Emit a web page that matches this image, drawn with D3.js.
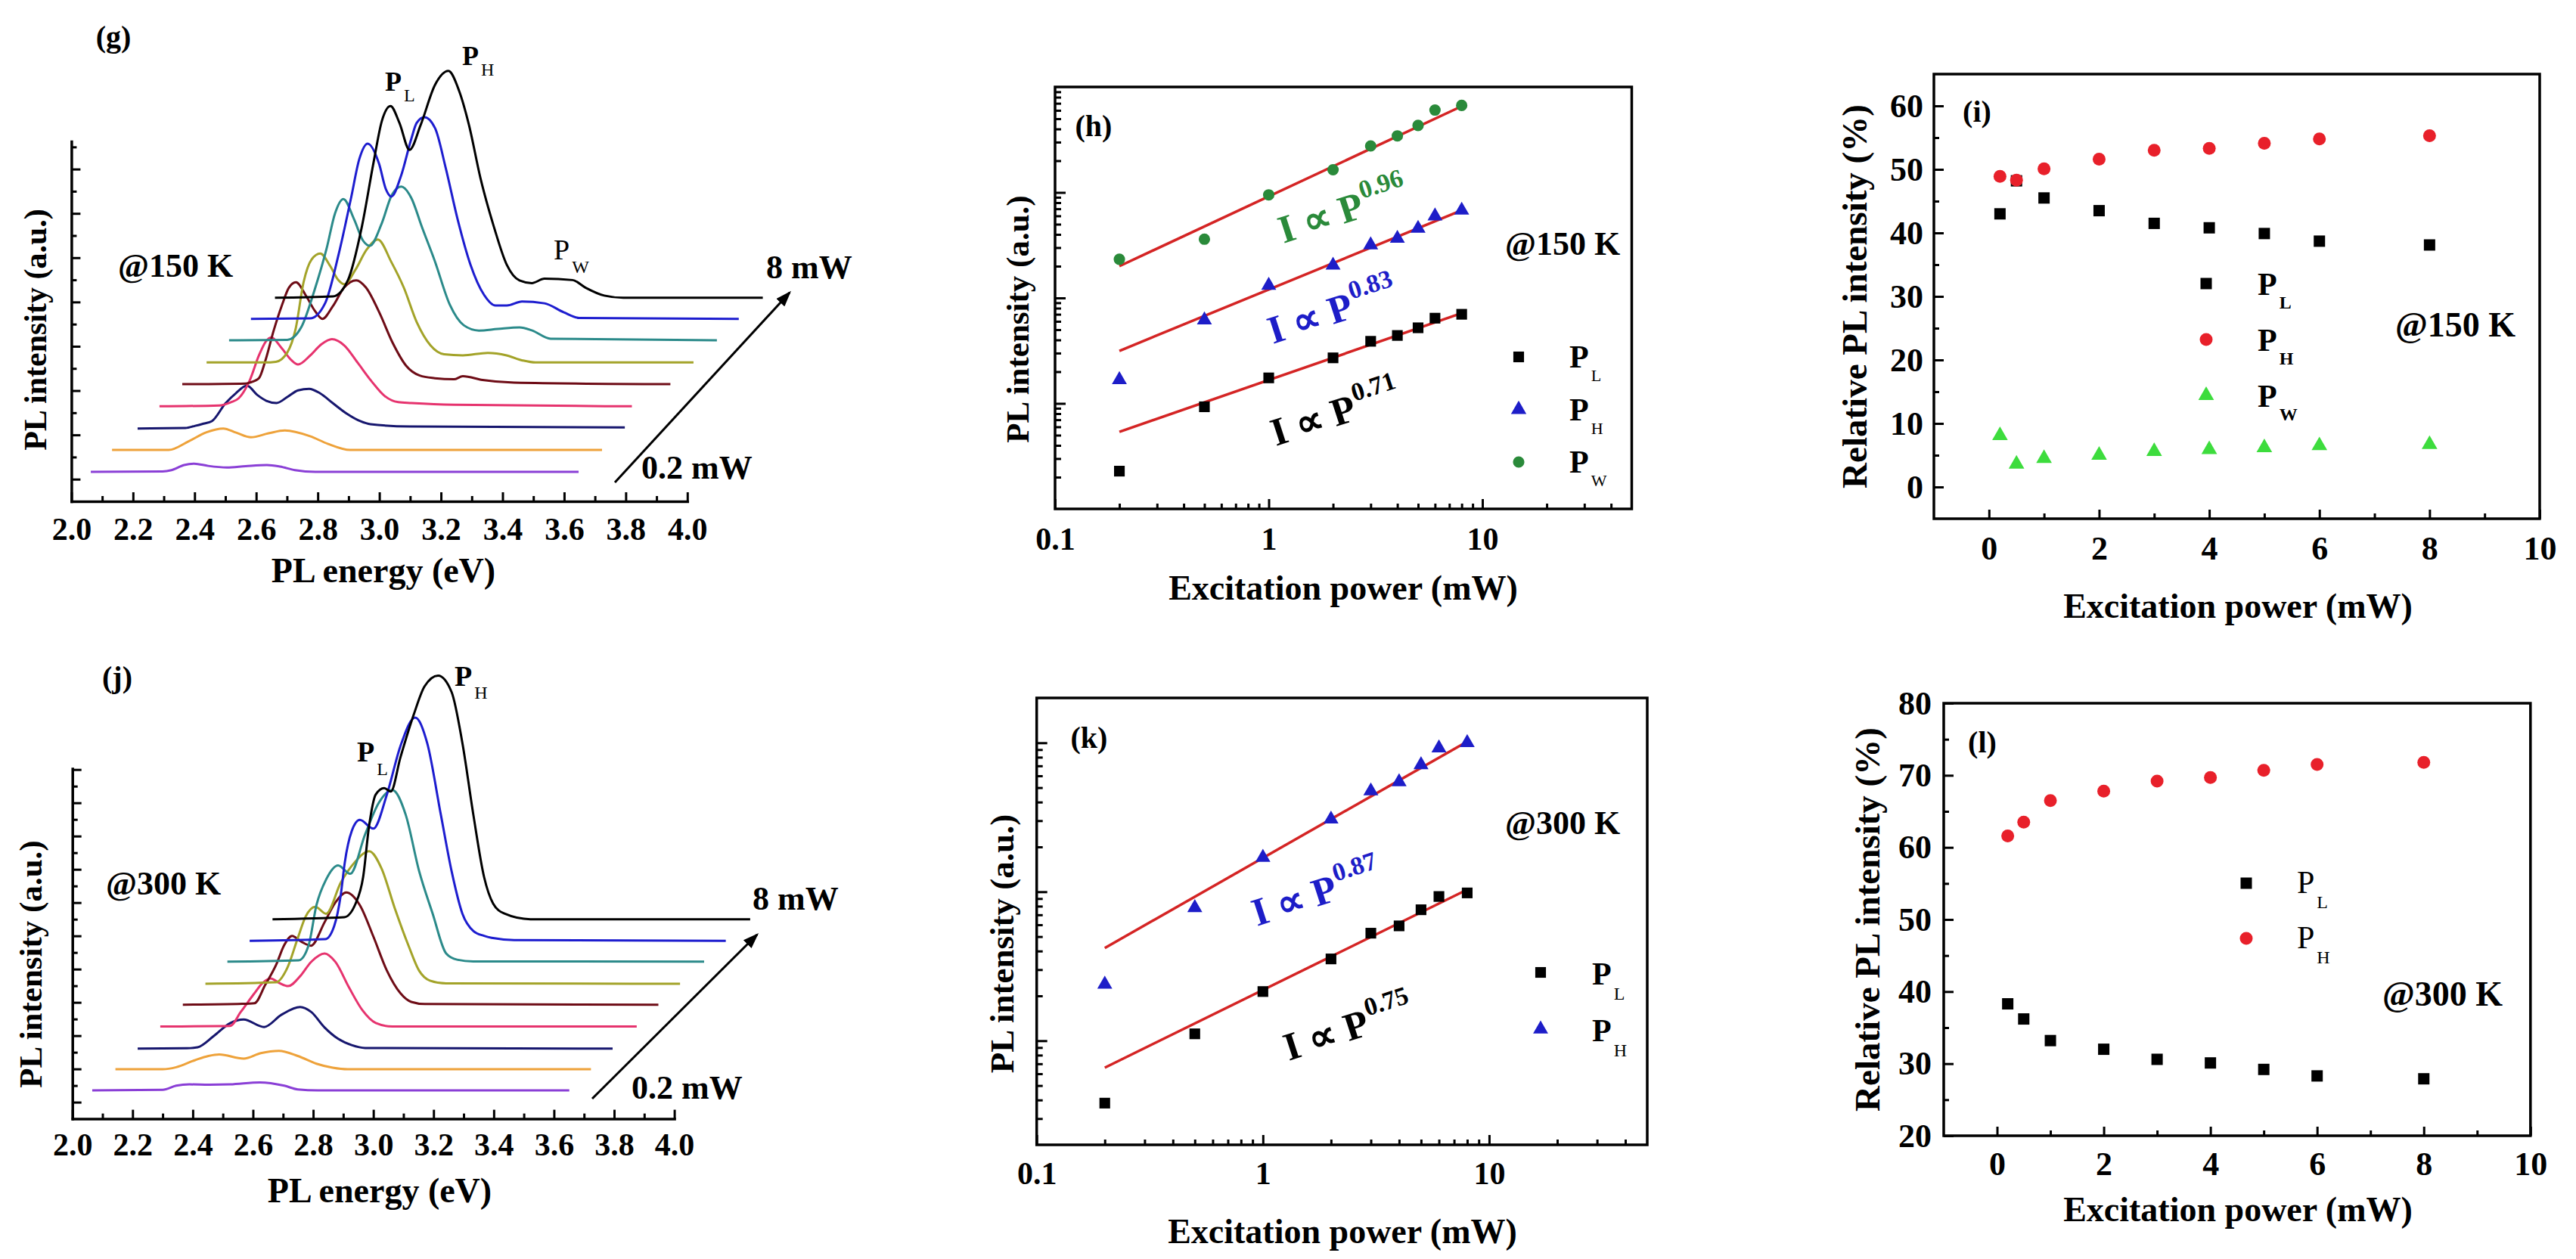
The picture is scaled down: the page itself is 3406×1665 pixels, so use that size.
<!DOCTYPE html>
<html>
<head>
<meta charset="utf-8">
<title>PL spectra and excitation power dependence</title>
<script src="https://cdn.jsdelivr.net/npm/d3@7/dist/d3.min.js"></script>
<style>
  body { margin: 0; background: #fff; }
  svg { display: block; }
</style>
</head>
<body>
<svg id="fig"></svg>
<script>
// ---------- data ----------
// excitation powers (mW), same for every panel
const powerMW = [0.2, 0.5, 1, 2, 3, 4, 5, 6, 8];

// (g) PL spectra @150 K: [energy (eV), intensity above the curve's own baseline (a.u.)]
const g02 = [[2.063,0],[2.296,0.02],[2.325,0.08],[2.366,0.31],[2.399,0.37],[2.444,0.27],[2.505,0.20],[2.566,0.26],[2.635,0.31],[2.677,0.24],[2.726,0.08],[2.792,0],[3.647,0]];
const g05 = [[2.132,0],[2.316,0],[2.382,0.40],[2.439,0.80],[2.493,0.97],[2.535,0.78],[2.583,0.57],[2.640,0.75],[2.693,0.88],[2.775,0.62],[2.832,0.28],[2.905,0],[3.723,0]];
const g1 = [[2.215,0],[2.370,0.02],[2.402,0.12],[2.429,0.22],[2.456,0.33],[2.500,1.13],[2.534,1.59],[2.570,1.93],[2.603,1.52],[2.633,1.25],[2.666,1.15],[2.701,1.42],[2.736,1.72],[2.772,1.79],[2.807,1.59],[2.850,1.13],[2.894,0.67],[2.938,0.33],[2.971,0.19],[3.099,0.09],[3.797,0.05]];
const g2 = [[2.286,0],[2.480,0.04],[2.517,0.18],[2.543,0.36],[2.579,1.17],[2.609,2.30],[2.631,2.92],[2.649,3.11],[2.682,2.64],[2.714,2.09],[2.736,1.89],[2.775,2.29],[2.812,2.80],[2.846,3.03],[2.886,2.75],[2.930,1.96],[2.973,1.16],[3.017,0.47],[3.061,0.19],[3.104,0.15],[3.241,0.07],[3.820,0]];
const g3 = [[2.360,0],[2.566,0.03],[2.579,0.07],[2.609,0.27],[2.630,1.07],[2.657,2.43],[2.684,3.58],[2.706,4.35],[2.729,4.60],[2.763,3.96],[2.792,3.28],[2.815,2.95],[2.849,3.52],[2.886,4.37],[2.925,4.69],[2.956,4.37],[3.000,3.23],[3.043,1.87],[3.087,0.83],[3.131,0.39],[3.180,0.27],[3.242,0.22],[3.271,0.36],[3.335,0.19],[3.438,0.07],[3.945,0]];
const g4 = [[2.439,0],[2.628,0],[2.664,0.03],[2.701,0.45],[2.728,1.51],[2.754,3.63],[2.780,4.65],[2.808,4.92],[2.841,4.34],[2.866,3.73],[2.886,3.53],[2.922,4.18],[2.959,5.10],[2.995,5.55],[3.039,4.53],[3.079,3.39],[3.122,1.80],[3.166,0.77],[3.210,0.37],[3.271,0.32],[3.352,0.43],[3.413,0.32],[3.465,0.09],[3.507,0],[4.020,0]];
const g5 = [[2.512,0],[2.701,0.02],[2.746,0.58],[2.790,2.29],[2.829,4.16],[2.856,5.73],[2.883,6.38],[2.918,5.46],[2.947,4.50],[2.969,4.27],[3.008,5.29],[3.040,6.55],[3.071,6.94],[3.104,6.42],[3.138,5.12],[3.180,3.58],[3.229,1.60],[3.274,0.68],[3.323,0.44],[3.384,0.51],[3.455,0.58],[3.495,0.45],[3.556,0.07],[4.096,0]];
const g6 = [[2.583,0],[2.775,0.02],[2.824,0.71],[2.868,2.93],[2.908,5.45],[2.935,7.22],[2.962,7.91],[2.999,7.00],[3.021,5.86],[3.039,5.52],[3.070,6.44],[3.104,8.14],[3.121,8.84],[3.146,9.10],[3.181,8.60],[3.215,6.84],[3.254,4.50],[3.296,2.44],[3.340,1.08],[3.377,0.60],[3.414,0.60],[3.463,0.78],[3.536,0.70],[3.598,0.30],[3.649,0.04],[4.167,0]];
const g8 = [[2.661,0],[2.849,0.06],[2.898,0.80],[2.943,3.20],[2.981,6.10],[3.008,7.98],[3.036,8.66],[3.065,7.90],[3.098,6.68],[3.134,7.80],[3.181,9.62],[3.224,10.24],[3.259,9.34],[3.291,7.80],[3.328,5.42],[3.372,3.20],[3.414,1.48],[3.455,0.78],[3.495,0.66],[3.536,0.86],[3.627,0.80],[3.669,0.46],[3.730,0.10],[3.792,0],[4.245,0]];
const spectra150 = [g02, g05, g1, g2, g3, g4, g5, g6, g8];
const baseline150 = [1.33, 2.32, 3.29, 4.29, 5.29, 6.27, 7.27, 8.24, 9.19];

// (j) PL spectra @300 K
const j02 = [[2.066,0],[2.300,0.03],[2.345,0.28],[2.389,0.36],[2.455,0.34],[2.524,0.36],[2.623,0.48],[2.704,0.28],[2.749,0.06],[2.815,0],[3.651,0]];
const j05 = [[2.143,0],[2.300,0],[2.345,0.12],[2.408,0.55],[2.452,0.80],[2.488,0.89],[2.569,0.64],[2.626,0.97],[2.686,1.11],[2.749,0.80],[2.811,0.33],[2.865,0.09],[2.915,0],[3.723,0]];
const j1 = [[2.217,0],[2.380,0.02],[2.416,0.08],[2.470,0.76],[2.524,1.53],[2.569,1.75],[2.637,1.30],[2.695,2.04],[2.757,2.50],[2.793,2.21],[2.838,1.27],[2.883,0.59],[2.928,0.21],[2.973,0.04],[3.795,0]];
const j2 = [[2.292,0],[2.488,0.02],[2.524,0.04],[2.560,0.89],[2.605,2.00],[2.631,2.60],[2.659,2.89],[2.687,2.62],[2.717,2.43],[2.757,3.03],[2.793,3.88],[2.838,4.39],[2.874,3.88],[2.919,2.35],[2.964,0.97],[3.008,0.21],[3.063,0],[3.875,0]];
const j3 = [[2.367,0],[2.564,0.05],[2.605,0.09],[2.641,1.20],[2.677,2.40],[2.704,3.59],[2.730,4.14],[2.760,3.80],[2.793,3.55],[2.838,4.96],[2.874,6.15],[2.910,6.75],[2.955,5.99],[3.000,4.10],[3.045,2.05],[3.090,0.69],[3.126,0.17],[3.171,0.04],[3.947,0]];
const j4 = [[2.442,0],[2.677,0.09],[2.714,0.95],[2.749,2.75],[2.775,4.04],[2.807,4.63],[2.843,4.21],[2.892,6.09],[2.937,7.28],[2.986,7.97],[3.027,6.94],[3.071,4.55],[3.116,2.33],[3.152,0.79],[3.188,0.19],[3.242,0.02],[4.019,0]];
const j5 = [[2.515,0],[2.752,0.08],[2.785,0.99],[2.811,3.40],[2.843,4.94],[2.883,5.79],[2.923,5.28],[2.973,7.67],[3.018,9.55],[3.063,10.32],[3.107,8.86],[3.152,5.45],[3.197,2.89],[3.242,0.49],[3.278,0.12],[3.332,0.01],[4.099,0]];
const j6 = [[2.589,0],[2.840,0.10],[2.870,0.90],[2.892,2.80],[2.905,4.70],[2.928,6.59],[2.955,7.27],[3.000,6.75],[3.045,8.80],[3.090,11.71],[3.139,13.42],[3.179,11.88],[3.224,7.61],[3.260,4.19],[3.296,1.63],[3.332,0.60],[3.368,0.30],[3.393,0.18],[3.468,0.05],[4.171,0]];
const j8 = [[2.665,0],[2.903,0.12],[2.941,0.94],[2.966,2.53],[2.986,5.63],[3.008,7.50],[3.036,7.88],[3.058,7.68],[3.090,9.73],[3.134,12.29],[3.170,14.00],[3.215,14.65],[3.260,13.66],[3.296,10.58],[3.332,6.31],[3.368,2.53],[3.398,0.94],[3.434,0.35],[3.522,0],[4.252,0]];
const spectra300 = [j02, j05, j1, j2, j3, j4, j5, j6, j8];
const baseline300 = [1.71, 2.98, 4.22, 5.55, 6.86, 8.12, 9.45, 10.70, 12.00];

// (h) peak intensities @150 K (a.u.)
const intPL150 = [22.8, 92.9, 174.6, 270.4, 388, 440.6, 521, 642.7, 699.8];
const intPH150 = [167.5, 616.6, 1315, 2037, 3177, 3664, 4560, 5970, 6776];
const intPW150 = [2328, 3606, 9484, 16406, 27606, 34356, 43152, 60395, 66834];
// red fit lines, end points [P (mW), I (a.u.)]
const fitPL150 = [[0.2, 53.8], [8, 717.8]];
const fitPH150 = [[0.2, 314.8], [8, 6776]];
const fitPW150 = [[0.2, 2000], [8, 65615]];
const exp150 = ["0.71", "0.83", "0.96"];

// (k) peak intensities @300 K (a.u.)
const intPL300 = [38.1, 111.2, 213.8, 354, 527, 590, 757, 929, 982];
const intPH300 = [239, 780, 1698, 3069, 4742, 5470, 7112, 9226, 10000];
const fitPL300 = [[0.2, 65.9], [8, 1033]];
const fitPH300 = [[0.2, 418.8], [8, 10186]];
const exp300 = ["0.75", "0.87"];

// (i) relative PL intensity @150 K (%)
const relPL150 = [43.0, 48.2, 45.5, 43.5, 41.5, 40.8, 39.9, 38.7, 38.1];
const relPH150 = [48.9, 48.3, 50.1, 51.6, 53.0, 53.3, 54.1, 54.8, 55.3];
const relPW150 = [8.1, 3.6, 4.5, 5.0, 5.6, 5.9, 6.2, 6.5, 6.7];

// (l) relative PL intensity @300 K (%)
const relPL300 = [38.3, 36.2, 33.2, 32.0, 30.6, 30.1, 29.2, 28.3, 27.9];
const relPH300 = [61.6, 63.5, 66.5, 67.8, 69.2, 69.7, 70.7, 71.5, 71.8];

// ticks
const energyTicks = [2.0, 2.2, 2.4, 2.6, 2.8, 3.0, 3.2, 3.4, 3.6, 3.8, 4.0];
const energyMinor = [2.1, 2.3, 2.5, 2.7, 2.9, 3.1, 3.3, 3.5, 3.7, 3.9];
const specMajor150 = [1, 3, 5, 7, 9, 11, 13, 15];
const specMinor150 = [2, 4, 6, 8, 10, 12, 14, 16];
const specMajor300 = [1, 3, 5, 7, 9, 11, 13, 15, 17, 19, 21];
const specMinor300 = [2, 4, 6, 8, 10, 12, 14, 16, 18, 20];
const logTicksX = [0.1, 1, 10];
const logMinorX = [0.2, 0.3, 0.4, 0.5, 0.6, 0.7, 0.8, 0.9, 2, 3, 4, 5, 6, 7, 8, 9, 20, 30, 40];
const logMajorY = [100, 1000, 10000];
const logMinorY150 = [20, 30, 40, 50, 60, 70, 80, 90, 200, 300, 400, 500, 600, 700, 800, 900,
  2000, 3000, 4000, 5000, 6000, 7000, 8000, 9000, 20000, 30000, 40000, 50000, 60000, 70000, 80000, 90000];
const logMinorY300 = [30, 40, 50, 60, 70, 80, 90, 200, 300, 400, 500, 600, 700, 800, 900,
  2000, 3000, 4000, 5000, 6000, 7000, 8000, 9000];
const powerTicks = [0, 2, 4, 6, 8, 10];
const powerMinor = [1, 3, 5, 7, 9];
const relTicks150 = [0, 10, 20, 30, 40, 50, 60];
const relMinor150 = [5, 15, 25, 35, 45, 55];
const relTicks300 = [20, 30, 40, 50, 60, 70, 80];
const relMinor300 = [25, 35, 45, 55, 65, 75];

// ---------- drawing ----------
const W = 3406, H = 1665;
const FONT = '"Liberation Serif", "Times New Roman", Times, serif';
const specColors = ["#8a3fd6", "#eea23a", "#16166e", "#e6336e", "#6e0c16", "#a3a329", "#2b8a8a", "#1d1dcf", "#000000"];
const red = "#d42424";
const blue = "#1d1dc8";
const darkGreen = "#2a8a3a";
const lime = "#3ddc3d";

const svg = d3.select("#fig")
  .attr("width", W).attr("height", H)
  .attr("font-family", FONT).attr("font-weight", "bold");
svg.append("rect").attr("width", W).attr("height", H).attr("fill", "#fff");

svg.append("defs").append("marker")
  .attr("id", "arrow").attr("viewBox", "0 0 14 10")
  .attr("refX", 12).attr("refY", 5)
  .attr("markerWidth", 7).attr("markerHeight", 5)
  .attr("orient", "auto")
  .append("path").attr("d", "M0,0L14,5L0,10Z").attr("fill", "#000");

// text with an optional subscript
function label(g, x, y, main, sub, o = {}) {
  const t = g.append("text").attr("x", x).attr("y", y)
    .attr("font-size", o.size || 44)
    .attr("font-weight", o.weight || "bold")
    .attr("fill", o.fill || "#000")
    .attr("text-anchor", o.anchor || "start");
  t.append("tspan").text(main);
  if (sub) {
    t.append("tspan")
      .attr("dx", o.subDx || 3).attr("dy", o.subDy || 14)
      .attr("font-size", o.subSize || 22)
      .attr("font-weight", o.subWeight || "normal")
      .text(sub);
  }
  return t;
}

function vTitle(g, x, y, s, size) {
  g.append("text")
    .attr("transform", `translate(${x},${y}) rotate(-90)`)
    .attr("text-anchor", "middle").attr("dy", "0.35em")
    .attr("font-size", size).text(s);
}

function styleAxis(a, size, keepDomain) {
  a.attr("font-family", FONT).attr("font-size", size).attr("font-weight", "bold");
  a.selectAll(".tick line").attr("stroke", "#000").attr("stroke-width", 3);
  a.selectAll("text").attr("fill", "#000");
  if (keepDomain) {
    a.select(".domain").attr("stroke", "#000").attr("stroke-width", 3.5).attr("stroke-linecap", "square");
  } else {
    a.select(".domain").remove();
  }
}

function frame(g, x, y) {
  g.append("rect")
    .attr("x", x.range()[0]).attr("y", y.range()[1])
    .attr("width", x.range()[1] - x.range()[0])
    .attr("height", y.range()[0] - y.range()[1])
    .attr("fill", "none").attr("stroke", "#000").attr("stroke-width", 3.5);
}

function points(g, xs, ys, x, y, type, size, color) {
  g.selectAll(null)
    .data(xs.map((p, i) => [p, ys[i]]))
    .join("path")
    .attr("transform", d => `translate(${x(d[0])},${y(d[1])})`)
    .attr("d", d3.symbol().type(type).size(size))
    .attr("fill", color);
}

function fitLine(g, fit, x, y) {
  g.append("path")
    .attr("d", d3.line().x(d => x(d[0])).y(d => y(d[1]))(fit))
    .attr("fill", "none").attr("stroke", red).attr("stroke-width", 3.5);
}

function powerLaw(g, px, py, exp, color) {
  const t = g.append("text")
    .attr("transform", `translate(${px},${py}) rotate(-18)`)
    .attr("font-size", 52).attr("fill", color);
  t.append("tspan").text("I \u221D P");
  t.append("tspan").attr("dx", 2).attr("dy", -24).attr("font-size", 34).text(exp);
}

// waterfall spectra panel, (g) and (j)
function spectraPanel(p) {
  const g = svg.append("g");
  const x = d3.scaleLinear().domain([2, 4]).range(p.xRange);
  const y = d3.scaleLinear().domain([0, p.yMax]).range(p.yRange);

  p.spectra.forEach((s, i) => {
    const line = d3.line()
      .x(d => x(d[0]))
      .y(d => y(p.baselines[i] + d[1]))
      .curve(d3.curveMonotoneX);
    g.append("path").attr("d", line(s))
      .attr("fill", "none").attr("stroke", specColors[i])
      .attr("stroke-width", 3).attr("stroke-linejoin", "round");
  });

  const ax = g.append("g").attr("transform", `translate(0,${p.yRange[0]})`)
    .call(d3.axisBottom(x).tickValues(energyTicks).tickSize(-12).tickSizeOuter(0)
      .tickPadding(p.xPad).tickFormat(d3.format(".1f")));
  styleAxis(ax, 42, true);
  const axm = g.append("g").attr("transform", `translate(0,${p.yRange[0]})`)
    .call(d3.axisBottom(x).tickValues(energyMinor).tickSize(-7).tickFormat(""));
  styleAxis(axm, 42, false);

  const ay = g.append("g").attr("transform", `translate(${p.xRange[0]},0)`)
    .call(d3.axisLeft(y).tickValues(p.yMajor).tickSize(-12).tickSizeOuter(0).tickFormat(""));
  styleAxis(ay, 42, true);
  const aym = g.append("g").attr("transform", `translate(${p.xRange[0]},0)`)
    .call(d3.axisLeft(y).tickValues(p.yMinor).tickSize(-7).tickFormat(""));
  styleAxis(aym, 42, false);

  return { g, x, y };
}

// log-log panel, (h) and (k)
function logPanel(p) {
  const g = svg.append("g");
  const x = d3.scaleLog().domain([0.1, 50]).range(p.xRange);
  const y = d3.scaleLog().domain(p.yDomain).range(p.yRange);

  const ax = g.append("g").attr("transform", `translate(0,${p.yRange[0]})`)
    .call(d3.axisBottom(x).tickValues(logTicksX).tickSize(-13).tickPadding(p.xPad).tickFormat(d => String(d)));
  styleAxis(ax, 42, false);
  const axm = g.append("g").attr("transform", `translate(0,${p.yRange[0]})`)
    .call(d3.axisBottom(x).tickValues(logMinorX).tickSize(-7).tickFormat(""));
  styleAxis(axm, 42, false);
  const ay = g.append("g").attr("transform", `translate(${p.xRange[0]},0)`)
    .call(d3.axisLeft(y).tickValues(logMajorY).tickSize(-14).tickFormat(""));
  styleAxis(ay, 42, false);
  const aym = g.append("g").attr("transform", `translate(${p.xRange[0]},0)`)
    .call(d3.axisLeft(y).tickValues(p.yMinor).tickSize(-8).tickFormat(""));
  styleAxis(aym, 42, false);
  frame(g, x, y);
  return { g, x, y };
}

// linear relative-intensity panel, (i) and (l)
function relPanel(p) {
  const g = svg.append("g");
  const x = d3.scaleLinear().domain([-1, 10]).range(p.xRange);
  const y = d3.scaleLinear().domain(p.yDomain).range(p.yRange);

  const ax = g.append("g").attr("transform", `translate(0,${p.yRange[0]})`)
    .call(d3.axisBottom(x).tickValues(powerTicks).tickSize(-12).tickPadding(p.xPad));
  styleAxis(ax, 44, false);
  const axm = g.append("g").attr("transform", `translate(0,${p.yRange[0]})`)
    .call(d3.axisBottom(x).tickValues(powerMinor).tickSize(-7).tickFormat(""));
  styleAxis(axm, 44, false);
  const ay = g.append("g").attr("transform", `translate(${p.xRange[0]},0)`)
    .call(d3.axisLeft(y).tickValues(p.yTicks).tickSize(-13).tickPadding(p.yPad));
  styleAxis(ay, 44, false);
  const aym = g.append("g").attr("transform", `translate(${p.xRange[0]},0)`)
    .call(d3.axisLeft(y).tickValues(p.yMinor).tickSize(-7).tickFormat(""));
  styleAxis(aym, 44, false);
  frame(g, x, y);
  return { g, x, y };
}

// ----- (g) -----
const pg = spectraPanel({
  xRange: [94.4, 908.8], yRange: [663, 187], yMax: 16.25, xPad: 21,
  spectra: spectra150, baselines: baseline150, yMajor: specMajor150, yMinor: specMinor150
});
label(pg.g, 150, 62, "(g)", null, { size: 40, anchor: "middle" });
label(pg.g, 156, 366, "@150 K");
label(pg.g, 509, 120, "P", "L", { size: 36, subDy: 14, subSize: 24 });
label(pg.g, 611, 86, "P", "H", { size: 36, subDy: 14, subSize: 24 });
label(pg.g, 732, 343, "P", "W", { size: 38, weight: "normal", subDy: 18, subSize: 24 });
pg.g.append("line").attr("x1", 813).attr("y1", 638).attr("x2", 1044).attr("y2", 387)
  .attr("stroke", "#000").attr("stroke-width", 3).attr("marker-end", "url(#arrow)");
label(pg.g, 848, 633, "0.2 mW");
label(pg.g, 1013, 368, "8 mW");
label(pg.g, 507, 770, "PL energy (eV)", null, { size: 46, anchor: "middle" });
vTitle(pg.g, 46, 436, "PL intensity (a.u.)", 42);

// ----- (j) -----
const pj = spectraPanel({
  xRange: [95.7, 891.6], yRange: [1479.6, 1016.6], yMax: 21.05, xPad: 19,
  spectra: spectra300, baselines: baseline300, yMajor: specMajor300, yMinor: specMinor300
});
label(pj.g, 155, 909, "(j)", null, { size: 40, anchor: "middle" });
label(pj.g, 140, 1183, "@300 K");
label(pj.g, 472, 1007, "P", "L", { size: 38, subDy: 18, subSize: 24 });
label(pj.g, 601, 907, "P", "H", { size: 38, subDy: 17, subSize: 24 });
pj.g.append("line").attr("x1", 783).attr("y1", 1453).attr("x2", 1001).attr("y2", 1236)
  .attr("stroke", "#000").attr("stroke-width", 3).attr("marker-end", "url(#arrow)");
label(pj.g, 835, 1453, "0.2 mW");
label(pj.g, 995, 1203, "8 mW");
label(pj.g, 502, 1590, "PL energy (eV)", null, { size: 46, anchor: "middle" });
vTitle(pj.g, 40, 1275, "PL intensity (a.u.)", 43);

// ----- (h) -----
const ph = logPanel({
  xRange: [1395, 2157.5], yRange: [673, 115], yDomain: [10, 1e5], xPad: 24, yMinor: logMinorY150
});
fitLine(ph.g, fitPL150, ph.x, ph.y);
fitLine(ph.g, fitPH150, ph.x, ph.y);
fitLine(ph.g, fitPW150, ph.x, ph.y);
points(ph.g, powerMW, intPL150, ph.x, ph.y, d3.symbolSquare, 200, "#000");
points(ph.g, powerMW, intPH150, ph.x, ph.y, d3.symbolTriangle, 170, blue);
points(ph.g, powerMW, intPW150, ph.x, ph.y, d3.symbolCircle, 180, darkGreen);
powerLaw(ph.g, 1697, 322, exp150[2], darkGreen);
powerLaw(ph.g, 1683, 455, exp150[1], blue);
powerLaw(ph.g, 1687, 590, exp150[0], "#000");
label(ph.g, 1446, 180, "(h)", null, { size: 40, anchor: "middle" });
label(ph.g, 1990, 337, "@150 K");
[["L", "#000", d3.symbolSquare], ["H", blue, d3.symbolTriangle], ["W", darkGreen, d3.symbolCircle]]
  .forEach(([s, c, t], i) => {
    const ly = 472 + i * 69.5;
    ph.g.append("path").attr("transform", `translate(2008,${ly})`)
      .attr("d", d3.symbol().type(t).size(t === d3.symbolSquare ? 200 : 180)).attr("fill", c);
    label(ph.g, 2075, ly + 14, "P", s, { size: 42, subDy: 18, subSize: 22 });
  });
label(ph.g, 1776, 793, "Excitation power (mW)", null, { size: 46, anchor: "middle" });
vTitle(ph.g, 1345, 422, "PL intensity (a.u.)", 43);

// ----- (k) -----
const pk = logPanel({
  xRange: [1370.7, 2178], yRange: [1514, 923], yDomain: [20, 2e4], xPad: 22, yMinor: logMinorY300
});
fitLine(pk.g, fitPL300, pk.x, pk.y);
fitLine(pk.g, fitPH300, pk.x, pk.y);
points(pk.g, powerMW, intPL300, pk.x, pk.y, d3.symbolSquare, 200, "#000");
points(pk.g, powerMW, intPH300, pk.x, pk.y, d3.symbolTriangle, 170, blue);
powerLaw(pk.g, 1662, 1225, exp300[1], blue);
powerLaw(pk.g, 1704, 1403, exp300[0], "#000");
label(pk.g, 1440, 989, "(k)", null, { size: 40, anchor: "middle" });
label(pk.g, 1990, 1103, "@300 K");
[["L", "#000", d3.symbolSquare], ["H", blue, d3.symbolTriangle]]
  .forEach(([s, c, t], i) => {
    const ly = 1286 + i * 75;
    pk.g.append("path").attr("transform", `translate(2037,${ly})`)
      .attr("d", d3.symbol().type(t).size(t === d3.symbolSquare ? 200 : 170)).attr("fill", c);
    label(pk.g, 2105, ly + 16, "P", s, { size: 42, subDy: 20, subSize: 24 });
  });
label(pk.g, 1775, 1644, "Excitation power (mW)", null, { size: 46, anchor: "middle" });
vTitle(pk.g, 1324, 1248, "PL intensity (a.u.)", 45);

// ----- (i) -----
const pi = relPanel({
  xRange: [2557, 3358], yRange: [686, 98], yDomain: [-5, 65], xPad: 23, yPad: 14,
  yTicks: relTicks150, yMinor: relMinor150
});
points(pi.g, powerMW, relPL150, pi.x, pi.y, d3.symbolSquare, 225, "#000");
points(pi.g, powerMW, relPH150, pi.x, pi.y, d3.symbolCircle, 227, "#e8202a");
points(pi.g, powerMW, relPW150, pi.x, pi.y, d3.symbolTriangle, 185, lime);
label(pi.g, 2614, 161, "(i)", null, { size: 40, anchor: "middle" });
label(pi.g, 3167, 445, "@150 K", null, { size: 46 });
[["L", "#000", d3.symbolSquare, 225], ["H", "#e8202a", d3.symbolCircle, 227], ["W", lime, d3.symbolTriangle, 185]]
  .forEach(([s, c, t, sz], i) => {
    const ly = 375 + i * 74;
    pi.g.append("path").attr("transform", `translate(2917,${ly})`)
      .attr("d", d3.symbol().type(t).size(sz)).attr("fill", c);
    label(pi.g, 2985, ly + 15, "P", s, { size: 42, subDy: 18, subSize: 24, subWeight: "bold" });
  });
label(pi.g, 2959, 817, "Excitation power (mW)", null, { size: 46, anchor: "middle" });
vTitle(pi.g, 2452, 392, "Relative PL intensity (%)", 47);

// ----- (l) -----
const pl = relPanel({
  xRange: [2570, 3345.8], yRange: [1502, 930], yDomain: [20, 80], xPad: 21, yPad: 16,
  yTicks: relTicks300, yMinor: relMinor300
});
points(pl.g, powerMW, relPL300, pl.x, pl.y, d3.symbolSquare, 225, "#000");
points(pl.g, powerMW, relPH300, pl.x, pl.y, d3.symbolCircle, 227, "#e8202a");
label(pl.g, 2621, 995, "(l)", null, { size: 40, anchor: "middle" });
label(pl.g, 3150, 1330, "@300 K", null, { size: 46 });
[["L", "#000", d3.symbolSquare, 225], ["H", "#e8202a", d3.symbolCircle, 227]]
  .forEach(([s, c, t, sz], i) => {
    const ly = 1168 + i * 73;
    pl.g.append("path").attr("transform", `translate(2970,${ly})`)
      .attr("d", d3.symbol().type(t).size(sz)).attr("fill", c);
    label(pl.g, 3037, ly + 13, "P", s, { size: 42, weight: "normal", subDy: 20, subSize: 24 });
  });
label(pl.g, 2959, 1615, "Excitation power (mW)", null, { size: 46, anchor: "middle" });
vTitle(pl.g, 2469, 1216, "Relative PL intensity (%)", 47);
</script>
</body>
</html>
